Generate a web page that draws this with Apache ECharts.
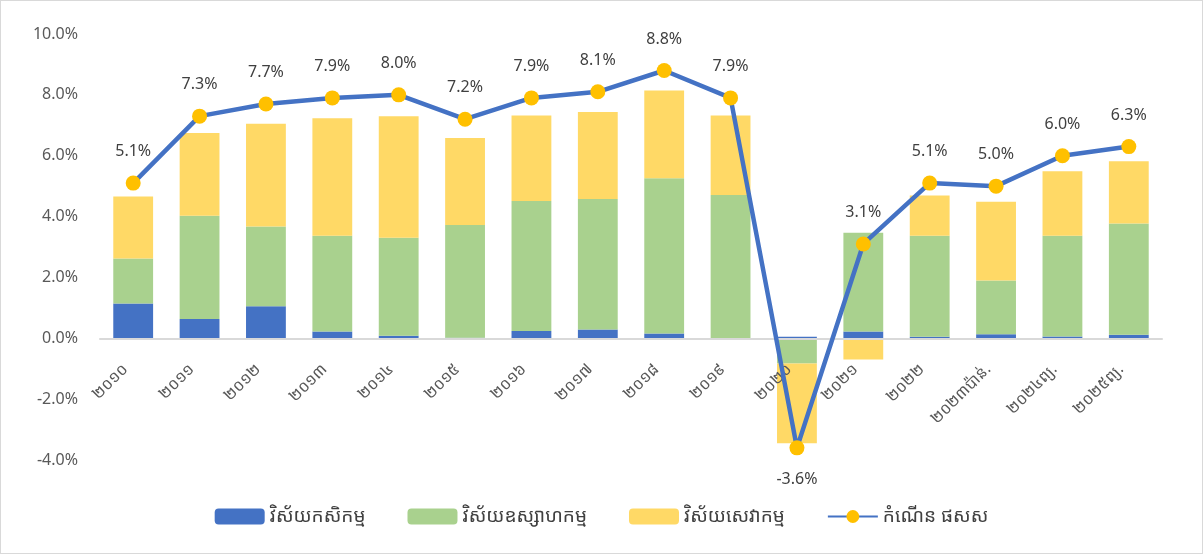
<!DOCTYPE html>
<html>
<head>
<meta charset="utf-8">
<script src="https://cdn.jsdelivr.net/npm/echarts@6/dist/echarts.min.js"></script>
<style>
  html, body { margin: 0; padding: 0; background: #fff; }
  #chart { width: 1203px; height: 554px; box-sizing: border-box; border: 1px solid #d9d9d9; }
</style>
</head>
<body>
<div id="chart"></div>
<script>
var years = ['២០១០', '២០១១', '២០១២', '២០១៣', '២០១៤', '២០១៥', '២០១៦', '២០១៧',
	'២០១៨', '២០១៩', '២០២០', '២០២១', '២០២២', '២០២៣ប៉ាន់.', '២០២៤ព្យ.', '២០២៥ព្យ.'];
var agri = [1.14, 0.63, 1.05, 0.22, 0.08, 0.02, 0.24, 0.29, 0.16, -0.05, 0.05, 0.22, 0.05, 0.13, 0.06, 0.12];
var industry = [1.48, 3.40, 2.62, 3.15, 3.22, 3.70, 4.27, 4.29, 5.10, 4.71, -0.83, 3.25, 3.32, 1.77, 3.31, 3.65];
var services = [2.04, 2.72, 3.38, 3.86, 4.00, 2.86, 2.81, 2.86, 2.88, 2.61, -2.62, -0.70, 1.32, 2.59, 2.12, 2.05];
var gdp = [5.1, 7.3, 7.7, 7.9, 8.0, 7.2, 7.9, 8.1, 8.8, 7.9, -3.6, 3.1, 5.1, 5.0, 6.0, 6.3];

var names = ['វិស័យកសិកម្ម', 'វិស័យឧស្សាហកម្ម', 'វិស័យសេវាកម្ម', 'កំណើន ផសស'];
var fontFam = "'Noto Sans Khmer', 'Khmer OS', 'Noto Sans', 'DejaVu Sans', sans-serif";

var gdpData = [];
for (var i = 0; i < gdp.length; ++i) {
	gdpData.push({
		value: gdp[i],
		label: { position: gdp[i] < 0 ? 'bottom' : 'top' }
	});
}

var chart = echarts.init(document.getElementById('chart'));
var option = {
	animation: false,
	textStyle: { fontFamily: fontFam },
	grid: { left: 99, right: 40, top: 33, bottom: 93 },
	legend: {
		data: names,
		bottom: 22,
		left: 'center',
		itemWidth: 50,
		itemHeight: 16,
		itemGap: 42,
		textStyle: { fontSize: 19, color: '#404040', fontFamily: fontFam }
	},
	xAxis: {
		type: 'category',
		data: years,
		z: 3,
		axisLine: { onZero: true, lineStyle: { color: '#d9d9d9', width: 2 } },
		axisTick: { show: false },
		// labels sit just under the zero line, not at the grid bottom
		axisLabel: { rotate: 45, fontSize: 16, color: '#595959', margin: -101, padding: [0, 11, 0, 0] }
	},
	yAxis: {
		type: 'value',
		min: -4,
		max: 10,
		interval: 2,
		splitLine: { show: false },
		axisLine: { show: false },
		axisLabel: {
			fontSize: 16,
			color: '#595959',
			margin: 22,
			formatter: function(v) { return v.toFixed(1) + '%'; }
		}
	},
	series: [{
		name: names[0],
		type: 'bar',
		stack: 'total',
		barWidth: '60%',
		itemStyle: { color: '#4472C4' },
		data: agri
	},
	{
		name: names[1],
		type: 'bar',
		stack: 'total',
		itemStyle: { color: '#A9D18E' },
		data: industry
	},
	{
		name: names[2],
		type: 'bar',
		stack: 'total',
		itemStyle: { color: '#FFD966' },
		data: services
	},
	{
		name: names[3],
		type: 'line',
		symbol: 'circle',
		symbolSize: 15,
		lineStyle: { color: '#4472C4', width: 4.5 },
		itemStyle: { color: '#FFC000' },
		label: {
			show: true,
			fontSize: 16,
			color: '#404040',
			distance: 16,
			formatter: function(p) { return p.value.toFixed(1) + '%'; }
		},
		z: 5,
		data: gdpData
	}]
};
chart.setOption(option);
</script>
</body>
</html>
